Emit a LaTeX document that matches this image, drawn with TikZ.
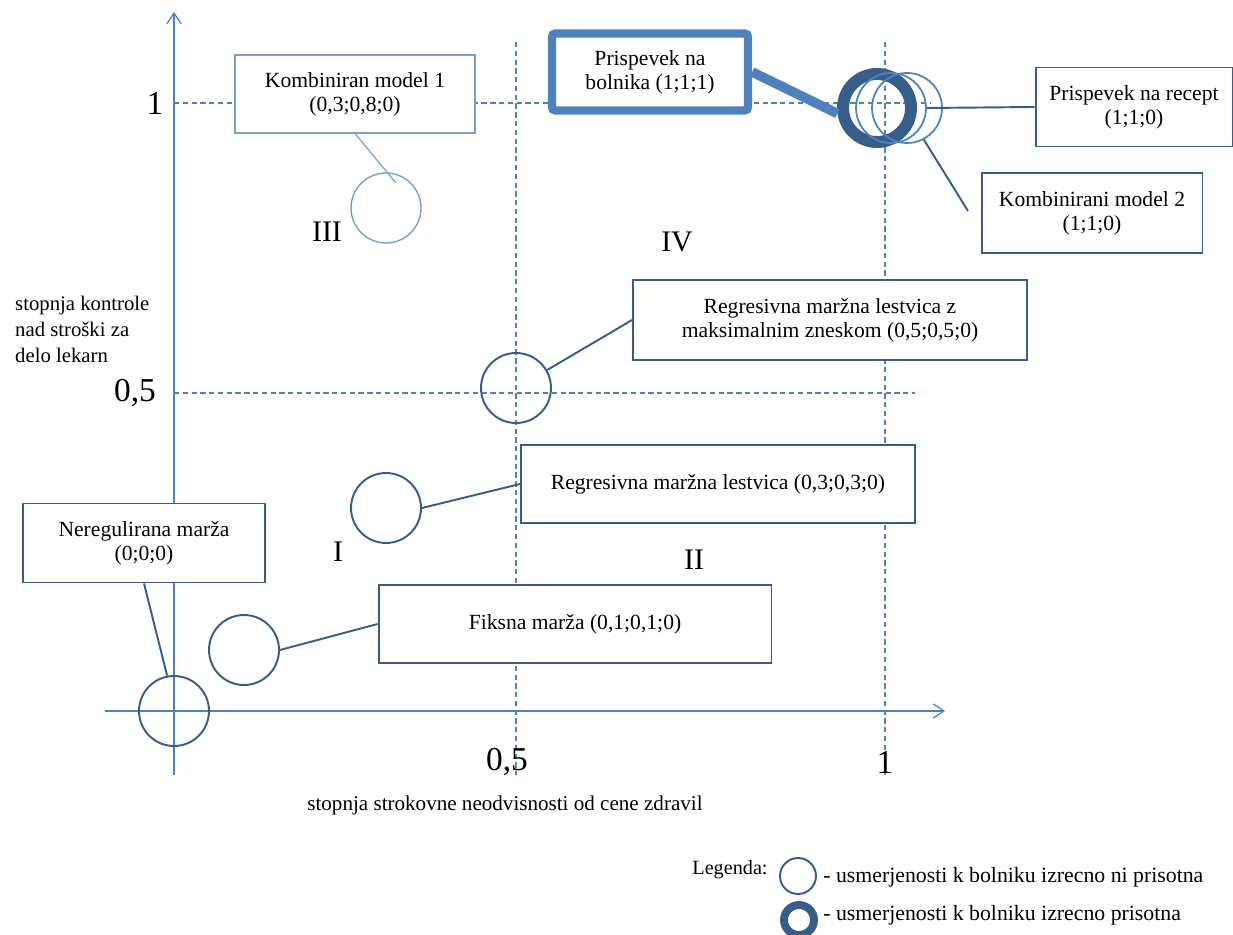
\documentclass[tikz,border=0pt]{standalone}
\usepackage{fontspec}
\setmainfont{Liberation Serif}
\usepackage{xcolor}
\definecolor{axisblue}{HTML}{4F81BD}
\definecolor{edgeblue}{HTML}{385D8A}
\definecolor{lightblue}{HTML}{7BA0CD}
\usepackage{tikz}
\usetikzlibrary{
  arrows.meta,
  positioning,
  calc
}

\begin{document}
\begin{tikzpicture}[
  x=0.02cm, y=-0.02cm,
  axis/.style={axisblue, line width=0.7pt, -{Straight Barb[length=6pt, width=8pt]}},
  grid/.style={axisblue, line width=0.6pt, dash pattern=on 3pt off 2pt},
  markbox/.style={rectangle, draw=edgeblue, line width=1.1pt, fill=white, align=center, font=\fontsize{12.3}{13.8}\selectfont, inner sep=0pt},
  spot/.style={circle, draw=edgeblue, line width=1.1pt, minimum size=1.4cm, inner sep=0pt},
  spotthick/.style={circle, draw=edgeblue, line width=6.8pt, minimum size=1.36cm, inner sep=0pt},
  link/.style={edgeblue, line width=1.1pt},
  tick/.style={font=\fontsize{19}{22}\selectfont},
  quad/.style={font=\fontsize{17}{20}\selectfont},
  legtext/.style={anchor=west, inner sep=0pt, font=\fontsize{12.4}{14}\selectfont},
]
\useasboundingbox (0,0) rectangle (1233,935);

% grid and axes
\draw[grid] (516,42) -- (516,775);
\draw[grid] (885,42) -- (885,775);
\draw[grid] (174,103) -- (930,103);
\draw[grid] (174,393) -- (915,393);
\draw[axis] (174,775) -- (174,12);
\draw[axis] (105,711) -- (945,711);

\node[tick] (y1) at (155,103) {1};
\node[tick] (y05) at (135,393) {0,5};
\node[tick] (x05) at (507,762) {0,5};
\node[tick] (x1) at (885,762) {1};

\node[align=left, font=\fontsize{11.8}{14.7}\selectfont, anchor=north west] (ylab) at (9,290) {stopnja kontrole\\nad stroški za\\delo lekarn};
\node[font=\fontsize{12}{14}\selectfont] (xlab) at (505,805) {stopnja strokovne neodvisnosti od cene zdravil};

\node[quad] (q3) at (327,232) {III};
\node[quad] (q4) at (677,242) {IV};
\node[quad] (q1) at (338,552) {I};
\node[quad] (q2) at (694,560) {II};

% boxes
\node[markbox, draw=lightblue, line width=0.7pt, minimum width=4.8cm, minimum height=1.56cm] (komb1) at (355,94) {Kombiniran model 1\\(0,3;0,8;0)};
\node[markbox, draw=axisblue, line width=4.8pt, rounded corners=2pt, minimum width=3.92cm, minimum height=1.54cm] (bolnik) at (650,72) {Prispevek na\\bolnika (1;1;1)};
\node[markbox, minimum width=3.94cm, minimum height=1.58cm] (recept) at (1134,107) {Prispevek na recept\\(1;1;0)};
\node[markbox, minimum width=4.42cm, minimum height=1.6cm] (komb2) at (1092,213) {Kombinirani model 2\\(1;1;0)};
\node[markbox, minimum width=7.88cm, minimum height=1.6cm] (regmax) at (830,320) {Regresivna maržna lestvica z\\maksimalnim zneskom (0,5;0,5;0)};
\node[markbox, minimum width=7.88cm, minimum height=1.56cm] (reg) at (718,484) {Regresivna maržna lestvica (0,3;0,3;0)};
\node[markbox, minimum width=4.84cm, minimum height=1.58cm] (nereg) at (144,543) {Neregulirana marža\\(0;0;0)};
\node[markbox, minimum width=7.86cm, minimum height=1.56cm] (fiks) at (575,624) {Fiksna marža (0,1;0,1;0)};

% circles
\node[spot] (c0) at (174,711) {};
\node[spot] (c1) at (244,650) {};
\node[spot] (c2) at (386,508) {};
\node[spot] (c3) at (516,388) {};
\node[spot, draw=lightblue, line width=0.8pt] (c4) at (386,208) {};
\node[spotthick] (c5) at (877,108) {};
\node[spot, draw=axisblue, line width=1pt] (c6) at (891,108) {};
\node[spot, draw=axisblue, line width=1pt] (c7) at (907,108) {};
\coordinate (k2end) at (968,211);

% connectors
\draw[link] (nereg.south) -- (c0.101);
\draw[link] (fiks.west) -- (c1.east);
\draw[link] (reg.west) -- (c2.east);
\draw[link] (regmax.west) -- (c3.30);
\draw[lightblue, line width=0.7pt] (komb1.south) -- ($(c4)+(10,-25)$);
\draw[axisblue, line width=5.5pt] (bolnik.east) -- (c5.188);
\draw[link] (c6.east) -- (recept.west);
\draw[link] (c7.-62) -- (k2end);

% legend
\node[font=\fontsize{11.5}{14}\selectfont] (leg) at (730,870) {Legenda:};
\node[circle, draw=edgeblue, line width=1.1pt, minimum size=0.72cm, inner sep=0pt] (legthin) at (798,876) {};
\node[circle, draw=edgeblue, line width=4.5pt, minimum size=0.6cm, inner sep=0pt] (legthick) at (799,920) {};
\node[legtext] (legtxt1) at (823,877) {- usmerjenosti k bolniku izrecno ni prisotna};
\node[legtext] (legtxt2) at (823,915) {- usmerjenosti k bolniku izrecno prisotna};

\end{tikzpicture}
\end{document}
